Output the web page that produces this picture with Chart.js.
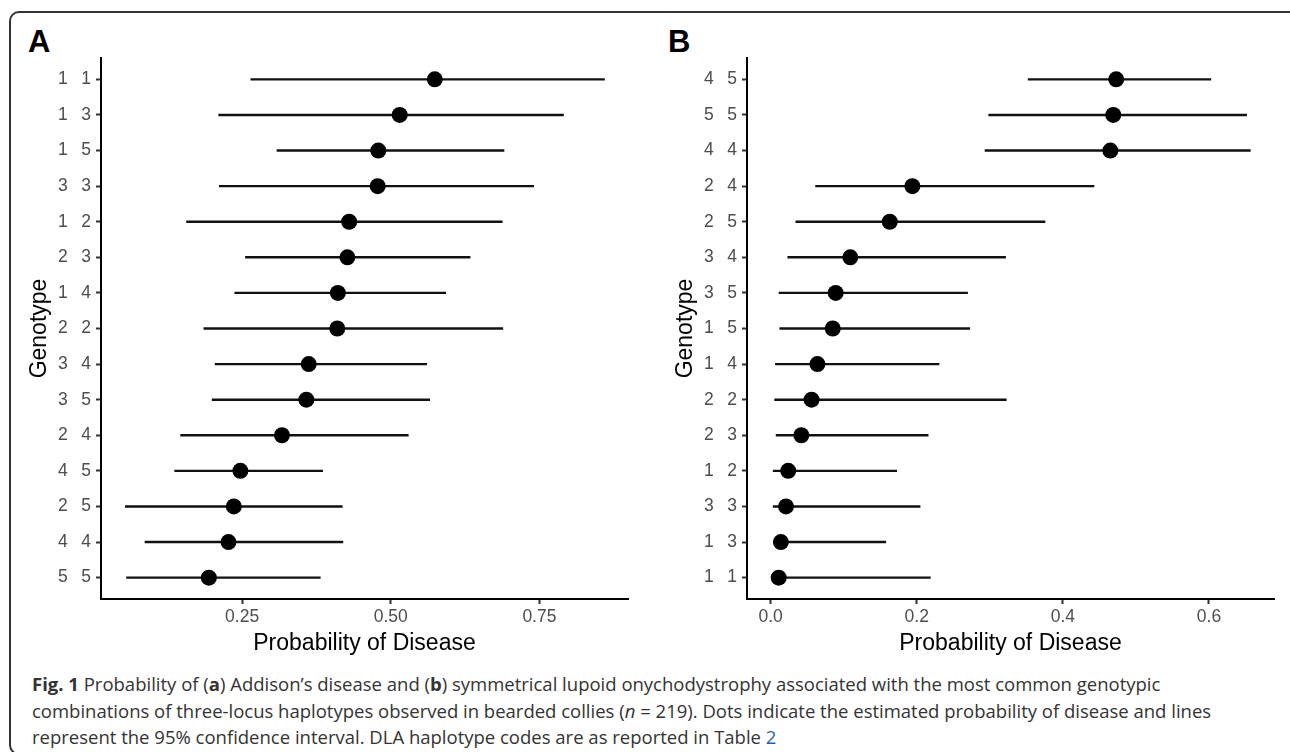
<!DOCTYPE html>
<html>
<head>
<meta charset="utf-8">
<script src="https://cdn.jsdelivr.net/npm/chart.js@4.4.1/dist/chart.umd.min.js"></script>
<style>
  html, body { margin: 0; padding: 0; background: #fff; }
  body { width: 1290px; height: 752px; position: relative; overflow: hidden; }
  .frame { position: absolute; left: 9px; top: 11px; width: 1290px; height: 744px; border: 2px solid #333; border-radius: 10px; box-sizing: border-box; }
  .tag { position: absolute; top: 26px; font: bold 31px "Liberation Sans", Arial, sans-serif; line-height: 31px; color: #000; }
  canvas { position: absolute; top: 40px; }
  .caption { position: absolute; left: 32px; top: 671px; font: 18.5px "Open Sans", sans-serif; line-height: 26.5px; color: #333; white-space: nowrap; }
  .caption a { color: #2a5db0; text-decoration: none; }
</style>
</head>
<body>
<div class="frame"></div>
<div class="tag" style="left:28px">A</div>
<div class="tag" style="left:668px">B</div>
<canvas id="chartA" width="644" height="630" style="left:0px"></canvas>
<canvas id="chartB" width="644" height="630" style="left:646px"></canvas>
<div class="caption"><b>Fig. 1</b> Probability of (<b>a</b>) Addison’s disease and (<b>b</b>) symmetrical lupoid onychodystrophy associated with the most common genotypic<br>combinations of three-locus haplotypes observed in bearded collies (<i>n</i> = 219). Dots indicate the estimated probability of disease and lines<br>represent the 95% confidence interval. DLA haplotype codes are as reported in Table <a>2</a></div>
<script>
// panel A: Addison's disease
const genotypesA = ['1 1','1 3','1 5','3 3','1 2','2 3','1 4','2 2','3 4','3 5','2 4','4 5','2 5','4 4','5 5'];
const estA = [0.574, 0.515, 0.479, 0.478, 0.430, 0.427, 0.411, 0.410, 0.362, 0.358, 0.317, 0.247, 0.236, 0.227, 0.194];
const lowA = [0.264, 0.210, 0.308, 0.211, 0.156, 0.255, 0.237, 0.185, 0.204, 0.199, 0.146, 0.136, 0.053, 0.086, 0.055];
const highA = [0.860, 0.791, 0.691, 0.741, 0.688, 0.634, 0.593, 0.689, 0.561, 0.566, 0.530, 0.386, 0.419, 0.420, 0.382];
const ticksA = [0.25, 0.50, 0.75];

// panel B: symmetrical lupoid onychodystrophy
const genotypesB = ['4 5','5 5','4 4','2 4','2 5','3 4','3 5','1 5','1 4','2 2','2 3','1 2','3 3','1 3','1 1'];
const estB = [0.473, 0.469, 0.465, 0.194, 0.163, 0.109, 0.089, 0.085, 0.064, 0.056, 0.042, 0.024, 0.021, 0.014, 0.011];
const lowB = [0.352, 0.298, 0.293, 0.061, 0.034, 0.023, 0.011, 0.012, 0.006, 0.005, 0.007, 0.003, 0.003, 0.005, 0.001];
const highB = [0.603, 0.652, 0.657, 0.443, 0.376, 0.322, 0.270, 0.273, 0.231, 0.323, 0.216, 0.173, 0.205, 0.158, 0.219];
const ticksB = [0.0, 0.2, 0.4, 0.6];

const FONT = '"Liberation Sans", Arial, sans-serif';

function forestChart(id, labels, est, low, high, xTicks, xMin, xMax, digits) {
  const bars = labels.map((g, i) => ({
    type: 'scatter',
    data: [{ x: low[i], y: i + 1 }, { x: high[i], y: i + 1 }],
    showLine: true,
    borderColor: '#111',
    borderWidth: 2.4,
    pointRadius: 0,
    order: 2
  }));
  const dots = {
    type: 'scatter',
    data: est.map((v, i) => ({ x: v, y: i + 1 })),
    pointRadius: 8,
    pointHoverRadius: 8,
    backgroundColor: '#000',
    borderWidth: 0,
    order: 1
  };
  return new Chart(document.getElementById(id), {
    type: 'scatter',
    data: { datasets: [dots, ...bars] },
    options: {
      responsive: false,
      animation: false,
      devicePixelRatio: 1,
      layout: { padding: { top: 18, right: 16, bottom: 0, left: 0 } },
      plugins: { legend: { display: false }, tooltip: { enabled: false } },
      scales: {
        x: {
          type: 'linear', min: xMin, max: xMax,
          afterBuildTicks: s => { s.ticks = xTicks.map(v => ({ value: v })); },
          afterFit: s => { s.height = 71; },
          grid: { drawOnChartArea: false, drawTicks: true, tickLength: 5, tickWidth: 2, color: '#333' },
          border: { display: true, color: '#000', width: 2 },
          ticks: { color: '#4d4d4d', padding: 3, font: { family: FONT, size: 17.5 }, callback: v => v.toFixed(digits) },
          title: { display: true, text: 'Probability of Disease', color: '#000', font: { family: FONT, size: 23 }, padding: { top: 0, bottom: 13 } }
        },
        y: {
          type: 'linear', min: 0.4, max: labels.length + 0.6, reverse: true,
          afterBuildTicks: s => { s.ticks = labels.map((_, i) => ({ value: i + 1 })); },
          afterFit: s => { s.width = 101; },
          grid: { drawOnChartArea: false, drawTicks: true, tickLength: 5, tickWidth: 2, color: '#333' },
          border: { display: true, color: '#000', width: 2 },
          ticks: { autoSkip: false, color: '#4d4d4d', padding: 5, font: { family: FONT, size: 17.5 },
                   callback: v => labels[v - 1].replace(' ', '\u2002 ') },
          title: { display: true, text: 'Genotype', color: '#000', font: { family: FONT, size: 23 }, padding: { top: 26, bottom: 0 } }
        }
      }
    }
  });
}

forestChart('chartA', genotypesA, estA, lowA, highA, ticksA, 0.0126, 0.899, 2);
forestChart('chartB', genotypesB, estB, lowB, highB, ticksB, -0.0324, 0.689, 1);
</script>
</body>
</html>
